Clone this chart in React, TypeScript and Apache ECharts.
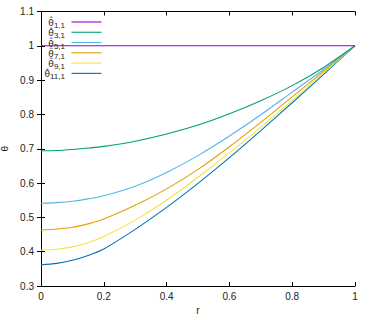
import React, { useEffect, useRef } from "react";
import * as echarts from "echarts";

const rValues = [0, 0.05, 0.1, 0.15, 0.2, 0.3, 0.4, 0.5, 0.6, 0.7, 0.8, 0.9, 1.0];
const theta11 = [1, 1, 1, 1, 1, 1, 1, 1, 1, 1, 1, 1, 1];
const theta31 = [0.694, 0.695, 0.698, 0.702, 0.707, 0.722, 0.743, 0.769, 0.802, 0.840, 0.884, 0.937, 1.0];
const theta51 = [0.541, 0.543, 0.547, 0.554, 0.563, 0.591, 0.631, 0.680, 0.737, 0.799, 0.865, 0.931, 1.0];
const theta71 = [0.463, 0.466, 0.471, 0.481, 0.495, 0.535, 0.583, 0.640, 0.706, 0.777, 0.851, 0.926, 1.0];
const theta91 = [0.404, 0.407, 0.414, 0.426, 0.444, 0.492, 0.550, 0.617, 0.688, 0.763, 0.841, 0.921, 1.0];
const theta111 = [0.362, 0.366, 0.375, 0.389, 0.408, 0.465, 0.529, 0.599, 0.674, 0.753, 0.834, 0.917, 1.0];

const seriesSubs = ["1,1", "3,1", "5,1", "7,1", "9,1", "11,1"];
const seriesData = [theta11, theta31, theta51, theta71, theta91, theta111];
const seriesColors = ["#9400d3", "#009e73", "#56b4e9", "#e69f00", "#f0e442", "#0072b2"];

const xTicks = { min: 0, max: 1, interval: 0.2 };
const yTicks = { min: 0.3, max: 1.1, interval: 0.1 };

const FONT = '"Liberation Sans", Arial, sans-serif';
const THETA_FONT = '"DejaVu Sans", sans-serif';

export default function App() {
  const ref = useRef<HTMLDivElement>(null);
  useEffect(() => {
    if (!ref.current) return;
    const chart = echarts.init(ref.current, null, { renderer: "svg" });

    const canvas = document.createElement("canvas");
    const ctx = canvas.getContext("2d")!;
    ctx.font = `8px ${FONT}`;

    const legendRight = 65;
    const legendTop = 22;
    const legendStep = 10.27;
    const legendGraphics: any[] = [];
    seriesSubs.forEach((sub, i) => {
      const y = legendTop + i * legendStep;
      const subW = ctx.measureText(sub).width;
      legendGraphics.push({
        type: "text",
        style: {
          text: "\u03b8\u0302",
          x: legendRight - subW,
          y: y + 1.0,
          align: "right",
          verticalAlign: "middle",
          font: `9px ${THETA_FONT}`,
          fill: "#222",
        },
      });
      legendGraphics.push({
        type: "text",
        style: {
          text: sub,
          x: legendRight - subW,
          y: y + 3.6,
          align: "left",
          verticalAlign: "middle",
          font: `8px ${FONT}`,
          fill: "#222",
        },
      });
      legendGraphics.push({
        type: "line",
        shape: { x1: 71.5, y1: y, x2: 101.5, y2: y },
        style: { stroke: seriesColors[i], lineWidth: 1.1 },
      });
    });

    const axisCommon = {
      axisLine: { show: true, lineStyle: { color: "#000", width: 1 } },
      axisTick: { show: true, inside: true, length: 4, lineStyle: { color: "#000" } },
      splitLine: { show: false },
    };

    chart.setOption({
      animation: false,
      grid: {
        left: 41,
        right: 19,
        top: 11.5,
        bottom: 34,
        containLabel: false,
        outerBoundsMode: "none",
      },
      xAxis: [
        {
          type: "value",
          ...xTicks,
          ...axisCommon,
          name: "r",
          nameLocation: "middle",
          nameGap: 14,
          nameTextStyle: { fontFamily: FONT, fontSize: 10, color: "#222" },
          axisLabel: { fontFamily: FONT, fontSize: 10, color: "#222", margin: 5 },
        },
        {
          type: "value",
          position: "top",
          ...xTicks,
          ...axisCommon,
          axisLabel: { show: false },
        },
      ],
      yAxis: [
        {
          type: "value",
          ...yTicks,
          ...axisCommon,
          name: "\u03b8\u0302",
          nameLocation: "middle",
          nameGap: 21,
          nameRotate: 90,
          nameTextStyle: { fontFamily: THETA_FONT, fontSize: 9, color: "#222" },
          axisLabel: { fontFamily: FONT, fontSize: 10, color: "#222", margin: 7 },
        },
        {
          type: "value",
          position: "right",
          ...yTicks,
          ...axisCommon,
          axisLabel: { show: false },
        },
      ],
      series: seriesData.map((vals, i) => ({
        type: "line",
        name: "\u03b8\u0302" + seriesSubs[i],
        xAxisIndex: 0,
        yAxisIndex: 0,
        data: rValues.map((r, j) => [r, vals[j]]),
        showSymbol: false,
        smooth: 0.3,
        lineStyle: { color: seriesColors[i], width: 1.1 },
        itemStyle: { color: seriesColors[i] },
        z: 2 + (seriesData.length - i),
      })),
      graphic: legendGraphics,
    });

    return () => chart.dispose();
  }, []);
  return (
    <div
      ref={ref}
      style={{ position: "fixed", left: 0, top: 0, width: 374, height: 320, background: "#fff" }}
    />
  );
}
